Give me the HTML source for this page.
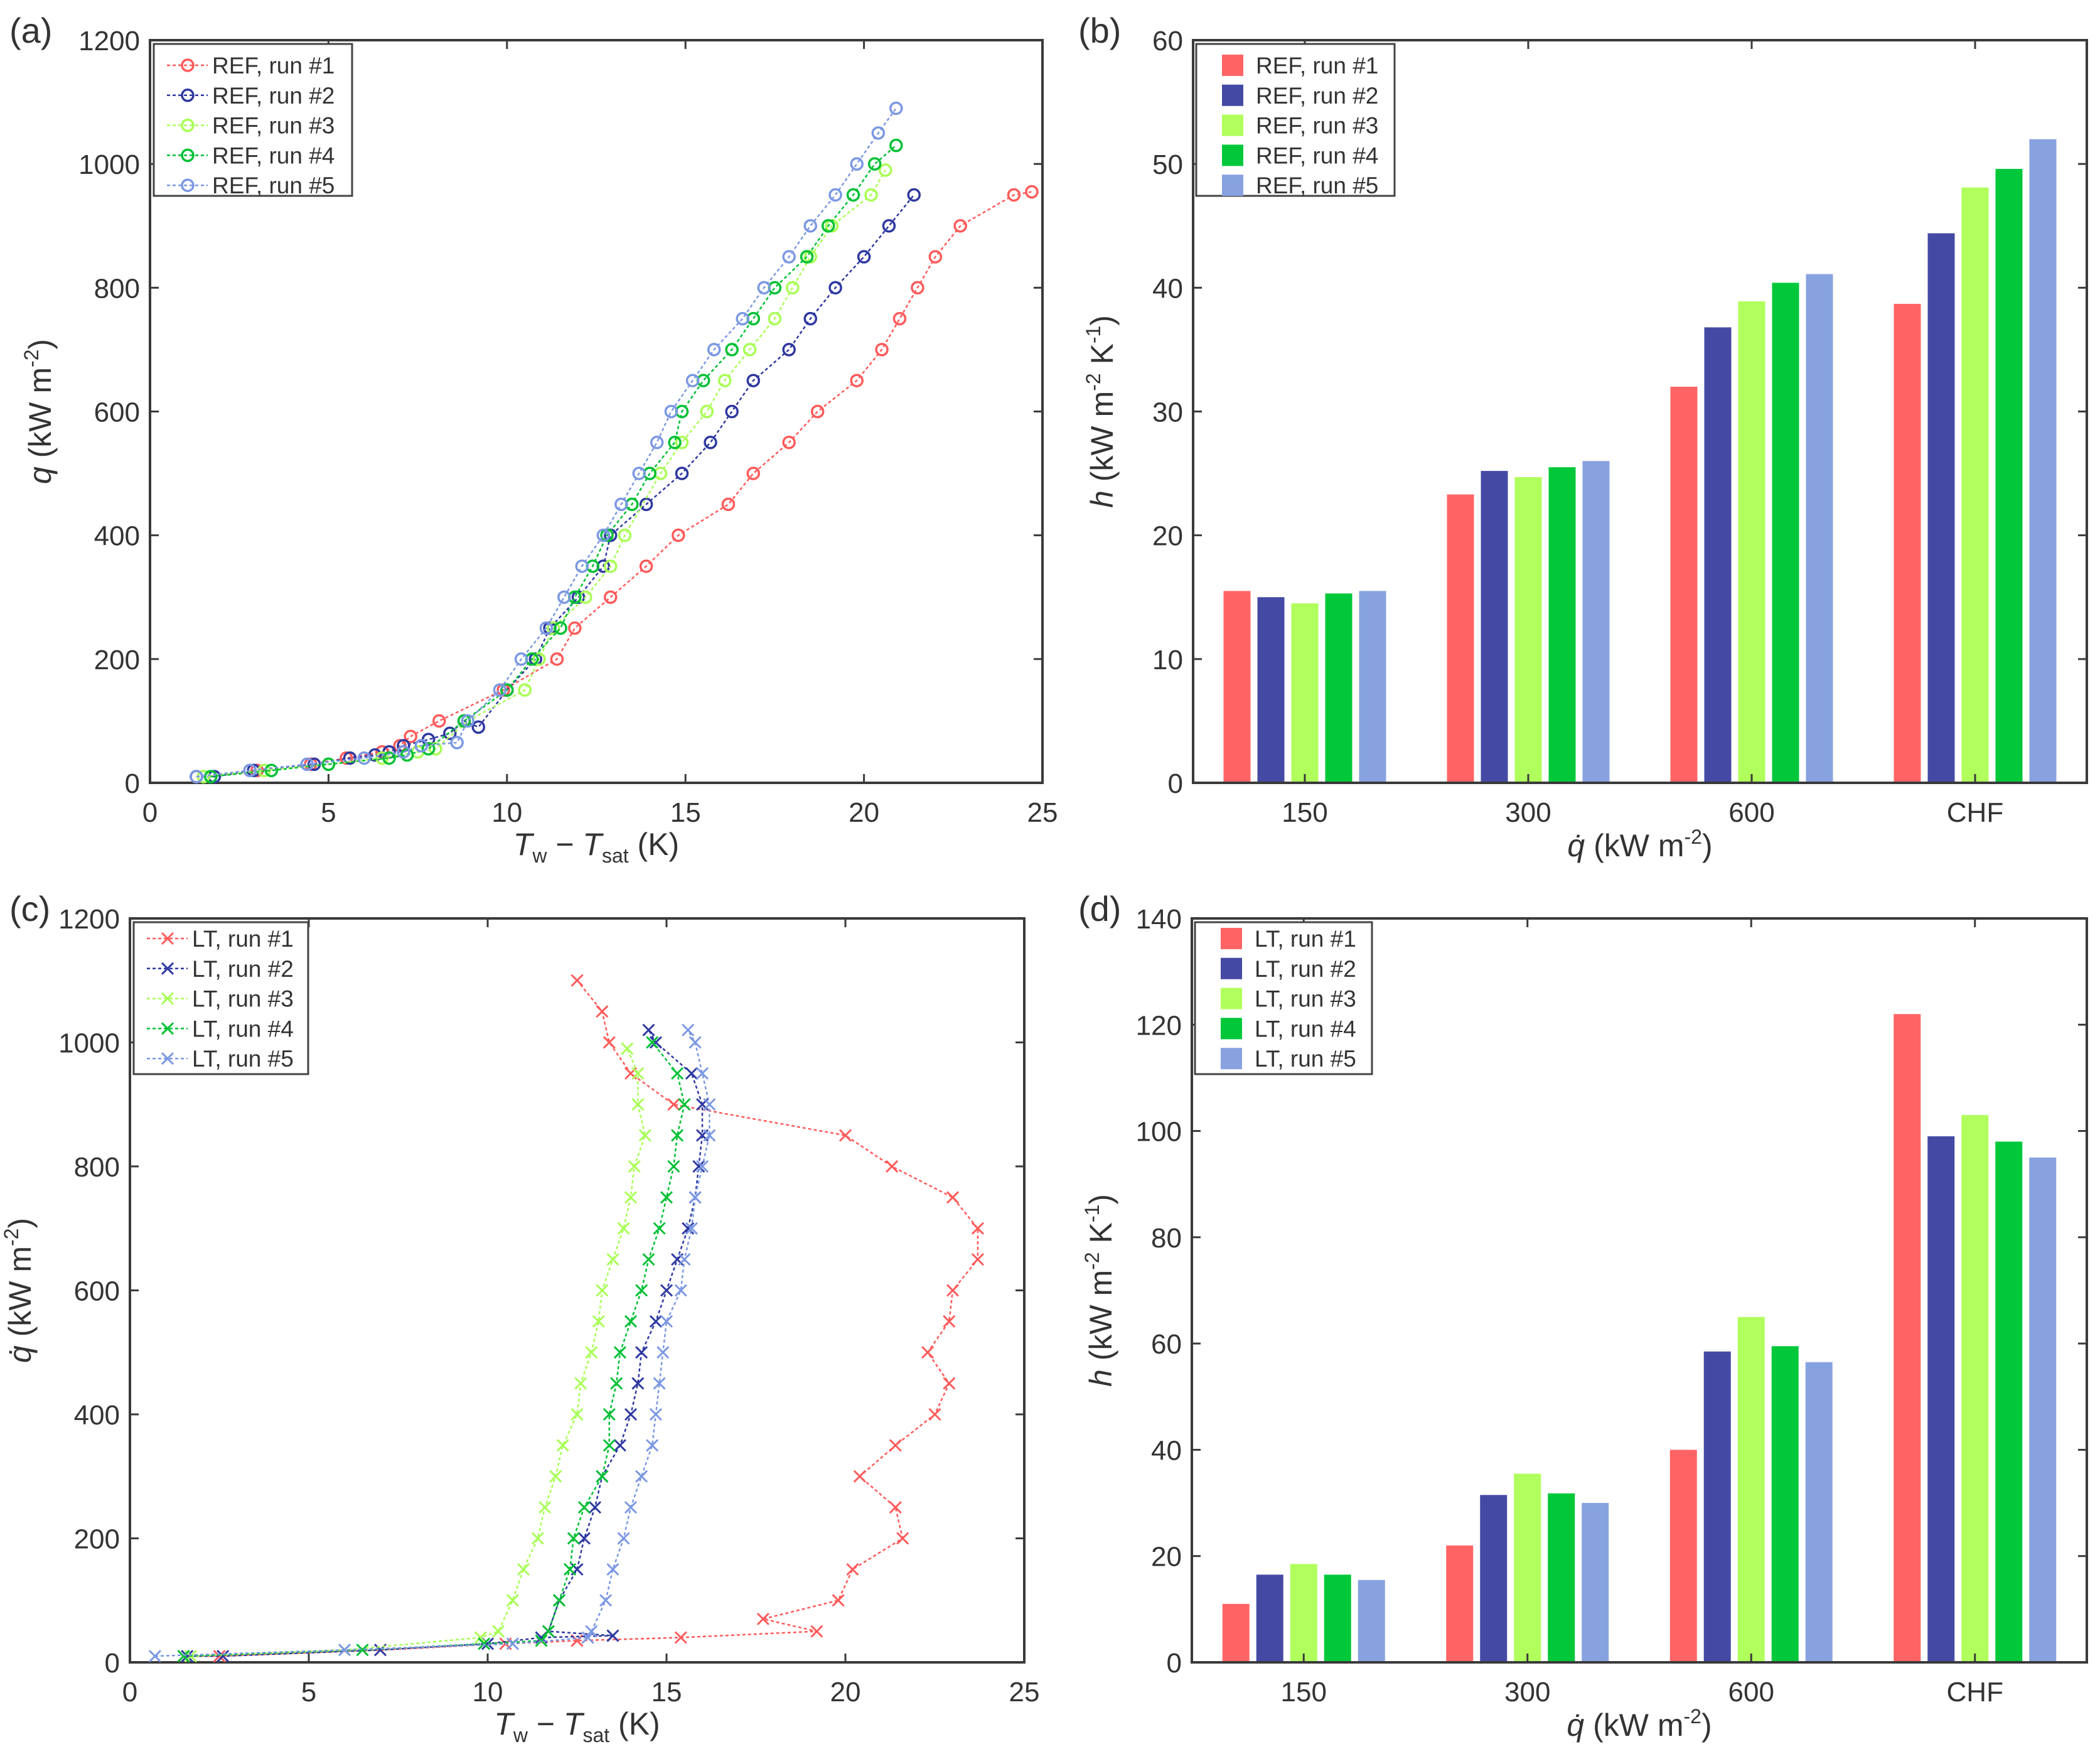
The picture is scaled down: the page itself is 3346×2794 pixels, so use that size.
<!DOCTYPE html>
<html><head><meta charset="utf-8">
<style>
html,body{margin:0;padding:0;background:#fff;}
svg{display:block;font-family:"Liberation Sans",Arial,sans-serif;}
</style></head>
<body>
<svg id="fig" width="3346" height="2794" viewBox="0 0 3346 2794" xmlns="http://www.w3.org/2000/svg">
<rect width="3346" height="2794" fill="#fff"/>
</svg>
<script>
// ---------- data ----------
const runColorsLine = ['#ff5a5a','#2e38a0','#a8ff55','#00c034','#7b98e2'];
const runColorsBar = ['#ff6464','#444aa4','#b0ff5c','#00c83a','#88a2e0'];

// Panel (a): REF boiling curves, [Tw-Tsat (K), q (kW/m2)]
const refRun1 = [[1.3,10],[3,20],[4.5,30],[5.5,40],[6.5,50],[7,60],[7.3,75],[8.1,100],[9.9,150],[11.4,200],[11.9,250],[12.9,300],[13.9,350],[14.8,400],[16.2,450],[16.9,500],[17.9,550],[18.7,600],[19.8,650],[20.5,700],[21,750],[21.5,800],[22,850],[22.7,900],[24.2,950],[24.7,955]];
const refRun2 = [[1.3,10],[1.8,10],[2.9,20],[4.6,30],[5.6,40],[6.3,45],[6.7,50],[7.1,60],[7.8,70],[8.4,80],[8.8,100],[9.2,90],[10,150],[10.8,200],[11.2,250],[12,300],[12.7,350],[12.9,400],[13.9,450],[14.9,500],[15.7,550],[16.3,600],[16.9,650],[17.9,700],[18.5,750],[19.2,800],[20,850],[20.7,900],[21.4,950]];
const refRun3 = [[1.5,10],[3.2,20],[5,30],[6.5,40],[7.5,50],[8,55],[8.9,100],[10.5,150],[10.9,200],[11.3,250],[12.2,300],[12.9,350],[13.3,400],[14.3,500],[14.9,550],[15.6,600],[16.1,650],[16.8,700],[17.5,750],[18,800],[18.5,850],[19.1,900],[20.2,950],[20.6,990]];
const refRun4 = [[1.7,10],[3.4,20],[5,30],[6.7,40],[7.2,45],[7.8,55],[8.8,100],[10,150],[10.7,200],[11.5,250],[11.9,300],[12.4,350],[12.8,400],[13.5,450],[14,500],[14.7,550],[14.9,600],[15.5,650],[16.3,700],[16.9,750],[17.5,800],[18.4,850],[19,900],[19.7,950],[20.3,1000],[20.9,1030]];
const refRun5 = [[1.3,10],[2.8,20],[4.4,30],[6,40],[7.1,50],[7.6,60],[8.6,65],[8.9,100],[9.8,150],[10.4,200],[11.1,250],[11.6,300],[12.1,350],[12.7,400],[13.2,450],[13.7,500],[14.2,550],[14.6,600],[15.2,650],[15.8,700],[16.6,750],[17.2,800],[17.9,850],[18.5,900],[19.2,950],[19.8,1000],[20.4,1050],[20.9,1090]];

// Panel (c): LT boiling curves
const ltRun1 = [[1.5,10],[2.5,10],[7,20],[10.5,30],[12.5,35],[15.4,40],[19.2,50],[17.7,70],[19.8,100],[20.2,150],[21.6,200],[21.4,250],[20.4,300],[21.4,350],[22.5,400],[22.9,450],[22.3,500],[22.9,550],[23,600],[23.7,650],[23.7,700],[23,750],[21.3,800],[20,850],[15.2,900],[14,950],[13.4,1000],[13.2,1050],[12.5,1100]];
const ltRun2 = [[1.6,10],[2.6,10],[7,20],[10,30],[11.5,40],[13.5,43],[11.7,50],[12,100],[12.5,150],[12.7,200],[13,250],[13.2,300],[13.7,350],[14,400],[14.2,450],[14.3,500],[14.7,550],[15,600],[15.3,650],[15.6,700],[15.8,750],[15.9,800],[16,850],[16,900],[15.7,950],[14.7,1000],[14.5,1020]];
const ltRun3 = [[1.7,10],[6,20],[9.8,40],[10.3,50],[10.7,100],[11,150],[11.4,200],[11.6,250],[11.9,300],[12.1,350],[12.5,400],[12.6,450],[12.9,500],[13.1,550],[13.2,600],[13.5,650],[13.8,700],[14,750],[14.1,800],[14.4,850],[14.2,900],[14.2,950],[13.9,990]];
const ltRun4 = [[1.5,10],[6.5,20],[9.9,30],[11.5,35],[11.7,50],[12,100],[12.3,150],[12.4,200],[12.7,250],[13.2,300],[13.4,350],[13.4,400],[13.6,450],[13.7,500],[14,550],[14.3,600],[14.5,650],[14.8,700],[15,750],[15.2,800],[15.3,850],[15.5,900],[15.3,950],[14.6,1000]];
const ltRun5 = [[0.7,10],[6,20],[10.7,30],[12.8,40],[12.9,50],[13.3,100],[13.5,150],[13.8,200],[14,250],[14.3,300],[14.6,350],[14.7,400],[14.8,450],[14.9,500],[15,550],[15.4,600],[15.5,650],[15.7,700],[15.8,750],[16,800],[16.2,850],[16.2,900],[16,950],[15.8,1000],[15.6,1020]];

// Bars
const barCategories = ['150','300','600','CHF'];
const refH1 = [15.5,23.3,32,38.7];
const refH2 = [15,25.2,36.8,44.4];
const refH3 = [14.5,24.7,38.9,48.1];
const refH4 = [15.3,25.5,40.4,49.6];
const refH5 = [15.5,26,41.1,52];
const ltH1 = [11,22,40,122];
const ltH2 = [16.5,31.5,58.5,99];
const ltH3 = [18.5,35.5,65,103];
const ltH4 = [16.5,31.8,59.5,98];
const ltH5 = [15.5,30,56.5,95];

const xTicksCurve = [0,5,10,15,20,25];
const yTicksCurve = [0,200,400,600,800,1000,1200];
const yTicksB = [0,10,20,30,40,50,60];
const yTicksD = [0,20,40,60,80,100,120,140];

// ---------- helpers ----------
const NS='http://www.w3.org/2000/svg';
const svg=document.getElementById('fig');
function mk(tag,attrs,parent){const e=document.createElementNS(NS,tag);for(const k in attrs)e.setAttribute(k,attrs[k]);(parent||svg).appendChild(e);return e;}
function txt(s,x,y,size,anchor,parent){const t=mk('text',{x:x,y:y,'font-size':size,'text-anchor':anchor||'middle',fill:'#333'},parent);t.textContent=s;return t;}

function axesFrame(g,L,T,R,B){
  const r=mk('rect',{x:L,y:T,width:R-L,height:B-T,fill:'none',stroke:'#3a3a3a','stroke-width':4},g);
  
  
}

function curvePanel(name,letter,L,T,R,B,series,labels,marker,yLabelHtml,legOff){
  const g=mk('g',{});
  
  
  const xs=v=>L+(v-0)/25*(R-L);
  const ys=v=>B-(v-0)/1200*(B-T);
  axesFrame(g,L,T,R,B);
  xTicksCurve.forEach(v=>{
    mk('line',{x1:xs(v),x2:xs(v),y1:B,y2:B-14,stroke:'#3a3a3a','stroke-width':3},g);
    mk('line',{x1:xs(v),x2:xs(v),y1:T,y2:T+14,stroke:'#3a3a3a','stroke-width':3},g);
    const t=txt(String(v),xs(v),B+62,44,'middle',g);
    
    
  });
  yTicksCurve.forEach(v=>{
    mk('line',{x1:L,x2:L+14,y1:ys(v),y2:ys(v),stroke:'#3a3a3a','stroke-width':3},g);
    mk('line',{x1:R,x2:R-14,y1:ys(v),y2:ys(v),stroke:'#3a3a3a','stroke-width':3},g);
    const t=txt(String(v),L-16,ys(v)+16,44,'end',g);
    
    
  });
  series.forEach((d,i)=>{
    const sg=mk('g',{},g);
    
    
    const pts=d.map(p=>xs(p[0]).toFixed(1)+','+ys(p[1]).toFixed(1)).join(' ');
    mk('polyline',{points:pts,fill:'none',stroke:runColorsLine[i],'stroke-width':2.5,'stroke-dasharray':'5 4'},sg);
    d.forEach(p=>drawMarker(sg,marker,xs(p[0]),ys(p[1]),runColorsLine[i]));
  });
  // legend
  const lg=mk('g',{},g);
  
  
  const lw=(marker==='o')?316:278;
  mk('rect',{x:L+6,y:T+6,width:lw,height:242,fill:'#fff',stroke:'#444','stroke-width':3},lg);
  labels.forEach((s,i)=>{
    const y=T+legOff+i*47.8;
    const eg=mk('g',{},lg);
    
    
    mk('line',{x1:L+27,x2:L+92,y1:y,y2:y,stroke:runColorsLine[i],'stroke-width':2.5,'stroke-dasharray':'5 4'},eg);
    drawMarker(eg,marker,L+60,y,runColorsLine[i]);
    txt(s,L+99,y+13,37,'start',eg);
  });
  // axis labels
  const xl=mk('text',{x:(L+R)/2,y:B+115,'font-size':50,'text-anchor':'middle',fill:'#333'},g);
  
  
  xl.innerHTML='<tspan font-style="italic">T</tspan><tspan font-size="32" dy="12">w</tspan><tspan dy="-12"> − </tspan><tspan font-style="italic">T</tspan><tspan font-size="32" dy="12">sat</tspan><tspan dy="-12"> (K)</tspan>';
  const yl=mk('text',{x:0,y:0,'font-size':50,'text-anchor':'middle',fill:'#333',transform:`translate(${L-158},${(T+B)/2}) rotate(-90)`},g);
  
  
  yl.innerHTML=yLabelHtml;
  const pl=txt(letter,15,T+4,56,'start',g);
  
  
}

function drawMarker(g,type,x,y,c){
  if(type==='o'){
    mk('circle',{cx:x,cy:y,r:9,fill:'none',stroke:c,'stroke-width':3.5},g);
  } else {
    const s=9;
    mk('path',{d:`M${x-s},${y-s}L${x+s},${y+s}M${x-s},${y+s}L${x+s},${y-s}`,stroke:c,'stroke-width':3,fill:'none'},g);
  }
}

function barPanel(name,letter,L,T,R,B,ymax,ticks,series,labels,legOff){
  const g=mk('g',{});
  
  
  const ys=v=>B-v/ymax*(B-T);
  const gw=(R-L)/barCategories.length;
  axesFrame(g,L,T,R,B);
  ticks.forEach(v=>{
    mk('line',{x1:L,x2:L+14,y1:ys(v),y2:ys(v),stroke:'#3a3a3a','stroke-width':3},g);
    mk('line',{x1:R,x2:R-14,y1:ys(v),y2:ys(v),stroke:'#3a3a3a','stroke-width':3},g);
    const t=txt(String(v),L-16,ys(v)+16,44,'end',g);
    
    
  });
  const bw=43, step=54;
  series.forEach((vals,i)=>{
    vals.forEach((v,j)=>{
      const cx=L+(j+0.5)*gw+(i-2)*step;
      const r=mk('rect',{x:cx-bw/2,y:ys(v),width:bw,height:B-ys(v),fill:runColorsBar[i]},g);
      
      
    });
  });
  axesFrame(g,L,T,R,B);
  barCategories.forEach((c,j)=>{
    const cx=L+(j+0.5)*gw;
    mk('line',{x1:cx,x2:cx,y1:B,y2:B-14,stroke:'#3a3a3a','stroke-width':3},g);
    mk('line',{x1:cx,x2:cx,y1:T,y2:T+14,stroke:'#3a3a3a','stroke-width':3},g);
    const t=txt(c,cx,B+62,44,'middle',g);
    
    
  });
  const lg=mk('g',{},g);
  
  
  const lw=labels[0].startsWith('REF')?316:282;
  mk('rect',{x:L+5,y:T+6,width:lw,height:242,fill:'#fff',stroke:'#444','stroke-width':3},lg);
  labels.forEach((s,i)=>{
    const y=T+legOff+i*47.8;
    const eg=mk('g',{},lg);
    
    
    mk('rect',{x:L+46,y:y-17,width:34,height:34,fill:runColorsBar[i]},eg);
    txt(s,L+100,y+13,37,'start',eg);
  });
  const xl=mk('text',{x:(L+R)/2,y:B+117,'font-size':50,'text-anchor':'middle',fill:'#333'},g);
  
  
  xl.innerHTML='<tspan font-style="italic">q̇</tspan> (kW m<tspan font-size="32" dy="-20">-2</tspan><tspan dy="20">)</tspan>';
  const yl=mk('text',{x:0,y:0,'font-size':50,'text-anchor':'middle',fill:'#333',transform:`translate(${L-128},${(T+B)/2}) rotate(-90)`},g);
  
  
  yl.innerHTML='<tspan font-style="italic">h</tspan> (kW m<tspan font-size="32" dy="-20">-2</tspan><tspan dy="20"> K</tspan><tspan font-size="32" dy="-20">-1</tspan><tspan dy="20">)</tspan>';
  const pl=txt(letter,1718,T+4,56,'start',g);
  
  
}

const refLabels=['REF, run #1','REF, run #2','REF, run #3','REF, run #4','REF, run #5'];
const ltLabels=['LT, run #1','LT, run #2','LT, run #3','LT, run #4','LT, run #5'];

curvePanel('panel-a-ref-boiling-curve','(a)',239,64,1661,1247,[refRun1,refRun2,refRun3,refRun4,refRun5],refLabels,'o',
  '<tspan font-style="italic">q</tspan> (kW m<tspan font-size="32" dy="-20">-2</tspan><tspan dy="20">)</tspan>',40);
curvePanel('panel-c-lt-boiling-curve','(c)',207,1463,1632,2648,[ltRun1,ltRun2,ltRun3,ltRun4,ltRun5],ltLabels,'x',
  '<tspan font-style="italic">q̇</tspan> (kW m<tspan font-size="32" dy="-20">-2</tspan><tspan dy="20">)</tspan>',32);
barPanel('panel-b-ref-htc-bars','(b)',1901,64,3325,1247,60,yTicksB,[refH1,refH2,refH3,refH4,refH5],refLabels,40);
barPanel('panel-d-lt-htc-bars','(d)',1899,1463,3325,2648,140,yTicksD,[ltH1,ltH2,ltH3,ltH4,ltH5],ltLabels,32);
</script>
</body></html>
